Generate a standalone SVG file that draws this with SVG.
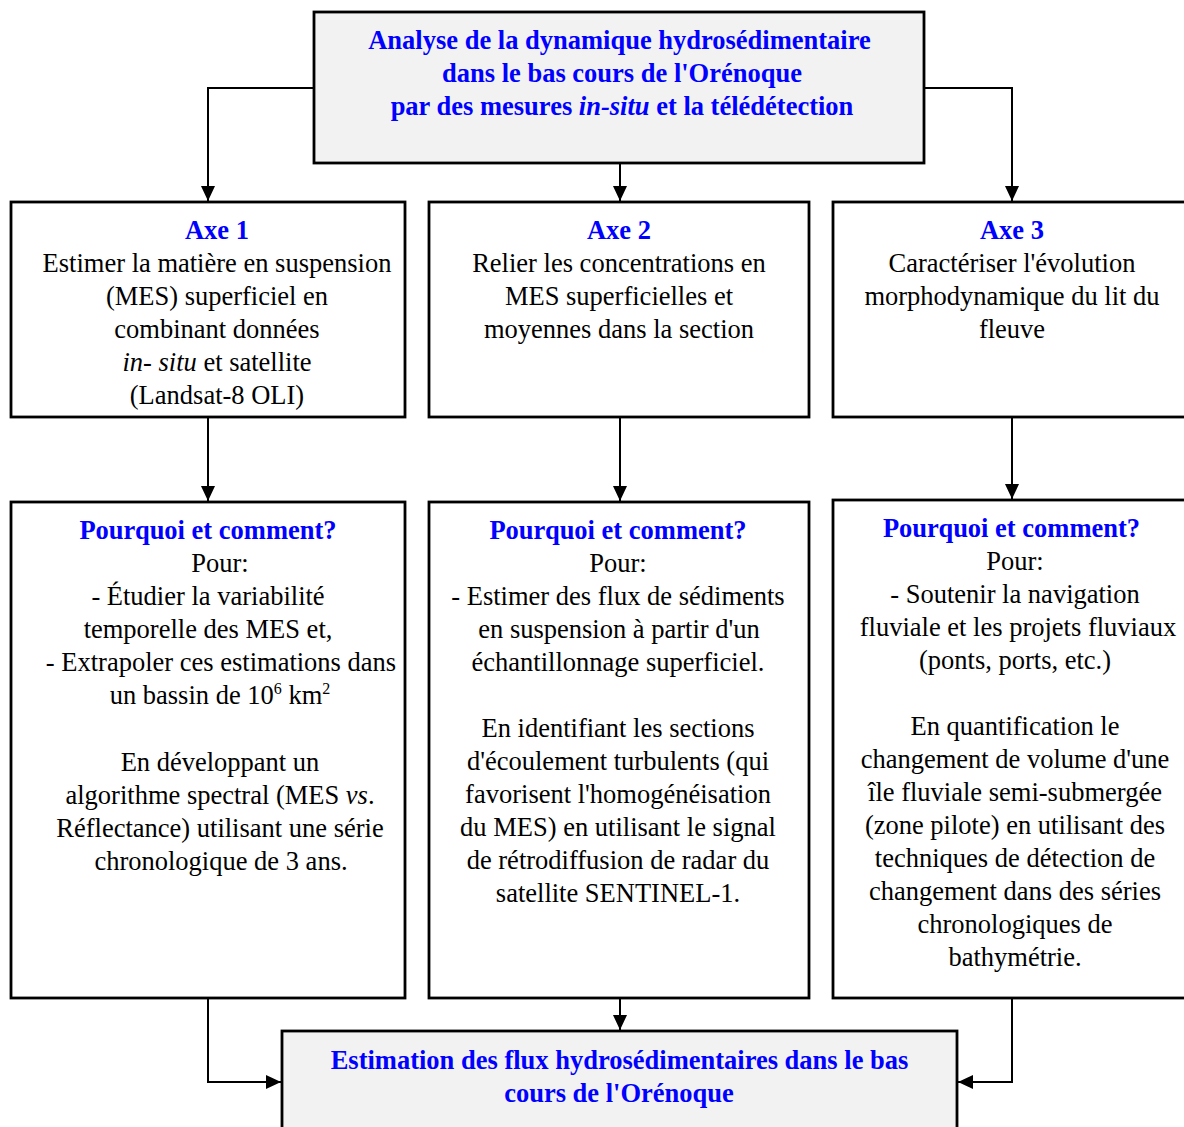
<svg xmlns="http://www.w3.org/2000/svg" width="1184" height="1127" viewBox="0 0 1184 1127">
<style>
.box{fill:#ffffff;stroke:#000;stroke-width:2.8}
.gbox{fill:#f2f2f2;stroke:#000;stroke-width:2.8}
text{font-family:"Liberation Serif","Times New Roman",serif;font-size:26.5px;fill:#000;text-anchor:middle}
.h{font-weight:bold;fill:#0000ff}
.c{fill:none;stroke:#000;stroke-width:2}
</style>
<defs>
<marker id="ah" viewBox="0 0 15 14" refX="15" refY="7" markerWidth="15" markerHeight="14" markerUnits="userSpaceOnUse" orient="auto">
<path d="M0,0 L15,7 L0,14 Z" fill="#000"/>
</marker>
</defs>
<g id="connectors">
<path class="c" d="M314,88 H208 V201" marker-end="url(#ah)"/>
<path class="c" d="M620,163 V201" marker-end="url(#ah)"/>
<path class="c" d="M924,88 H1012 V201" marker-end="url(#ah)"/>
<path class="c" d="M208,417 V501" marker-end="url(#ah)"/>
<path class="c" d="M620,417 V501" marker-end="url(#ah)"/>
<path class="c" d="M1012,417 V499" marker-end="url(#ah)"/>
<path class="c" d="M208,998 V1082 H281" marker-end="url(#ah)"/>
<path class="c" d="M620,998 V1030" marker-end="url(#ah)"/>
<path class="c" d="M1012,998 V1082 H958" marker-end="url(#ah)"/>
</g>
<g id="top">
<rect class="gbox" x="314" y="12" width="610" height="151"/>
<text class="h" x="619.5" y="49">Analyse de la dynamique hydrosédimentaire</text>
<text class="h" x="622" y="82">dans le bas cours de l'Orénoque</text>
<text class="h" x="622" y="115">par des mesures <tspan font-style="italic">in-situ</tspan> et la télédétection</text>
</g>
<g id="axe1">
<rect class="box" x="11" y="202" width="394" height="215"/>
<text class="h" x="217" y="239">Axe 1</text>
<text x="217" y="272">Estimer la matière en suspension</text>
<text x="217" y="305">(MES) superficiel en</text>
<text x="217" y="338">combinant données</text>
<text x="217" y="371"><tspan font-style="italic">in- situ</tspan> et satellite</text>
<text x="217" y="404">(Landsat-8 OLI)</text>
</g>
<g id="axe2">
<rect class="box" x="429" y="202" width="380" height="215"/>
<text class="h" x="619" y="239">Axe 2</text>
<text x="619" y="272">Relier les concentrations en</text>
<text x="619" y="305">MES superficielles et</text>
<text x="619" y="338">moyennes dans la section</text>
</g>
<g id="axe3">
<rect class="box" x="833" y="202" width="380" height="215"/>
<text class="h" x="1012" y="239">Axe 3</text>
<text x="1012" y="272">Caractériser l'évolution</text>
<text x="1012" y="305">morphodynamique du lit du</text>
<text x="1012" y="338">fleuve</text>
</g>
<g id="pq1">
<rect class="box" x="11" y="502" width="394" height="496"/>
<text class="h" x="208" y="539">Pourquoi et comment?</text>
<text x="220" y="572">Pour:</text>
<text x="208" y="605">- Étudier la variabilité</text>
<text x="208" y="638">temporelle des MES et,</text>
<text x="221" y="671">- Extrapoler ces estimations dans</text>
<text x="220" y="704">un bassin de 10<tspan font-size="16" dy="-10">6</tspan><tspan dy="10"> km</tspan><tspan font-size="16" dy="-10">2</tspan></text>
<text x="220" y="771">En développant un</text>
<text x="220" y="804">algorithme spectral (MES <tspan font-style="italic">vs</tspan>.</text>
<text x="220" y="837">Réflectance) utilisant une série</text>
<text x="221" y="870">chronologique de 3 ans.</text>
</g>
<g id="pq2">
<rect class="box" x="429" y="502" width="380" height="496"/>
<text class="h" x="618" y="539">Pourquoi et comment?</text>
<text x="618" y="572">Pour:</text>
<text x="618" y="605">- Estimer des flux de sédiments</text>
<text x="619" y="638">en suspension à partir d'un</text>
<text x="618" y="671">échantillonnage superficiel.</text>
<text x="618" y="737">En identifiant les sections</text>
<text x="618" y="770">d'écoulement turbulents (qui</text>
<text x="618" y="803">favorisent l'homogénéisation</text>
<text x="618" y="836">du MES) en utilisant le signal</text>
<text x="618" y="869">de rétrodiffusion de radar du</text>
<text x="618" y="902">satellite SENTINEL-1.</text>
</g>
<g id="pq3">
<rect class="box" x="833" y="500" width="380" height="498"/>
<text class="h" x="1011.5" y="537">Pourquoi et comment?</text>
<text x="1015" y="570">Pour:</text>
<text x="1015" y="603">- Soutenir la navigation</text>
<text x="1018" y="636">fluviale et les projets fluviaux</text>
<text x="1015" y="669">(ponts, ports, etc.)</text>
<text x="1015" y="735">En quantification le</text>
<text x="1015" y="768">changement de volume d'une</text>
<text x="1015" y="801">île fluviale semi-submergée</text>
<text x="1015" y="834">(zone pilote) en utilisant des</text>
<text x="1015" y="867">techniques de détection de</text>
<text x="1015" y="900">changement dans des séries</text>
<text x="1015" y="933">chronologiques de</text>
<text x="1015" y="966">bathymétrie.</text>
</g>
<g id="bottom">
<rect class="gbox" x="282" y="1031" width="675" height="110"/>
<text class="h" x="619.5" y="1069">Estimation des flux hydrosédimentaires dans le bas</text>
<text class="h" x="619" y="1102">cours de l'Orénoque</text>
</g>
</svg>
